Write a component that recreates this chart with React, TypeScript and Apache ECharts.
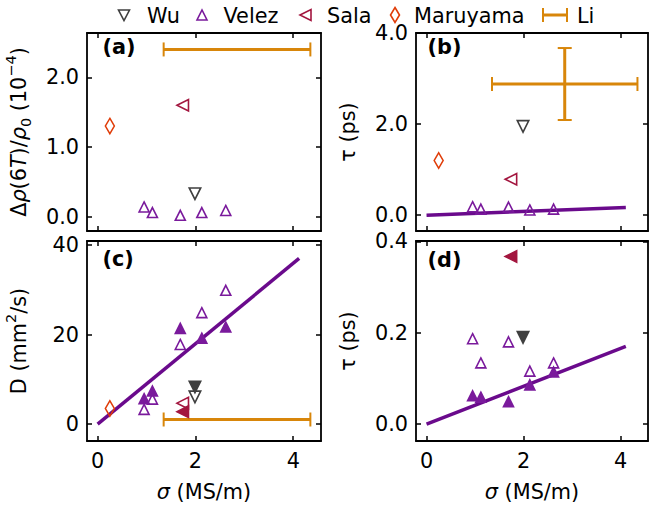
import React, { useEffect, useRef } from "react";
import * as echarts from "echarts";

// ---------------- data ----------------
const xTicks = [0, 2, 4];
const rhoTicks = [0, 1, 2];
const tauTicksB = [0, 2, 4];
const dTicks = [0, 20, 40];
const tauTicksD = [0, 0.2, 0.4];

const velezSigma = [0.95, 1.12, 1.69, 2.13, 2.62];
const velezRho = [0.14, 0.06, 0.02, 0.06, 0.09];
const velezTauOpen = [0.187, 0.134, 0.18, 0.116, 0.134];
const velezTauFilled = [0.062, 0.059, 0.049, 0.086, 0.114];
const velezDOpen = [3.3, 5.6, 17.8, 24.9, 29.9];
const velezDFilled = [5.7, 7.4, 21.4, 19.2, 21.7];

const wuSigma = [1.99];
const wuRho = [0.33];
const wuTau = [1.95];
const wuDOpen = [6.1];
const wuDFilled = [8.3];
const wuTauFilled = [0.19];

const salaSigma = [1.74];
const salaRho = [1.6];
const salaTau = [0.79];
const salaDOpen = [4.7];
const salaDFilled = [2.8];
const salaTauFilled = [0.367];

const maruyamaSigma = [0.25];
const maruyamaRho = [1.3];
const maruyamaTau = [1.2];
const maruyamaD = [3.5];

const liSigma = [2.85];
const liSigmaErr = [1.5];
const liRho = [2.4];
const liTau = [2.88];
const liTauErr = [0.79];
const liD = [1.05];

const tauFitSigma = [0, 4.11];
const tauFit = [0, 0.17];
const dFitSigma = [0, 4.12];
const dFit = [0, 37.0];

const legendNames = ["Wu", "Velez", "Sala", "Maruyama", "Li"];

// ---------------- style ----------------
const FONT = "DejaVu Sans";
const FS = 20.8;
const C_WU = "#3f3f3f";
const C_VELEZ = "#7a1a9c";
const C_LINE = "#6a0a8c";
const C_SALA = "#a3163f";
const C_MARU = "#e03c08";
const C_LI = "#d8860a";

const XMIN = -0.2175;
const XMAX = 4.5675;

const SYM_DOWN = "path://M0,0L2,0L1,2Z";
const SYM_LEFT = "path://M0,1L2,0L2,2Z";

const zip = (a: number[], b: number[]) => a.map((v, i) => [v, b[i]]);

const panels = [
  { left: 87, top: 33, width: 234, height: 198 },
  { left: 416, top: 33, width: 232, height: 198 },
  { left: 87, top: 241, width: 234, height: 200 },
  { left: 416, top: 241, width: 232, height: 200 },
];

const frameLine = { show: true, onZero: false, lineStyle: { color: "#000", width: 1.8 } };

function xAxes(gi: number, showLabels: boolean) {
  const base: any = {
    type: "value",
    gridIndex: gi,
    min: XMIN,
    max: XMAX,
    axisLine: frameLine,
    splitLine: { show: false },
    axisTick: { show: true, inside: true, length: 5, lineStyle: { color: "#000", width: 1.5 }, customValues: xTicks },
  };
  return [
    {
      ...base,
      position: "bottom",
      axisLabel: {
        show: showLabels,
        customValues: xTicks,
        fontSize: FS,
        fontFamily: FONT,
        color: "#000",
        margin: 9,
        showMinLabel: true,
        showMaxLabel: true,
      },
      name: showLabels ? "{i|σ}{n| (MS/m)}" : "",
      nameLocation: "middle",
      nameGap: 40,
      nameTextStyle: {
        fontSize: FS,
        fontFamily: FONT,
        color: "#000",
        rich: {
          i: { fontStyle: "italic", fontSize: FS, fontFamily: FONT, color: "#000" },
          n: { fontSize: FS, fontFamily: FONT, color: "#000" },
        },
      },
    },
    { ...base, position: "top", axisLabel: { show: false } },
  ];
}

function yAxes(gi: number, min: number, max: number, ticks: number[], dec: number, name: string, rich: any, gap: number) {
  const base: any = {
    type: "value",
    gridIndex: gi,
    min,
    max,
    axisLine: frameLine,
    splitLine: { show: false },
    axisTick: { show: true, inside: true, length: 5, lineStyle: { color: "#000", width: 1.5 }, customValues: ticks },
  };
  return [
    {
      ...base,
      position: "left",
      axisLabel: {
        show: true,
        customValues: ticks,
        fontSize: FS,
        fontFamily: FONT,
        color: "#000",
        margin: 8,
        showMinLabel: true,
        showMaxLabel: true,
        formatter: (v: number) => v.toFixed(dec),
      },
      name,
      nameLocation: "middle",
      nameRotate: 90,
      nameGap: gap,
      nameTextStyle: { fontSize: FS, fontFamily: FONT, color: "#000", rich },
    },
    { ...base, position: "right", axisLabel: { show: false } },
  ];
}

function scatter(name: string, p: number, xs: number[], ys: number[], symbol: string, size: any, color: string, filled: boolean) {
  return {
    type: "scatter",
    name,
    xAxisIndex: 2 * p,
    yAxisIndex: 2 * p,
    data: zip(xs, ys),
    symbol,
    symbolSize: size,
    z: 5,
    itemStyle: {
      color: filled ? color : "rgba(0,0,0,0)",
      borderColor: color,
      borderWidth: 1.6,
      opacity: 1,
    },
  };
}

function fitLine(p: number, xs: number[], ys: number[]) {
  return {
    type: "line",
    xAxisIndex: 2 * p,
    yAxisIndex: 2 * p,
    data: zip(xs, ys),
    symbol: "none",
    z: 3,
    lineStyle: { color: C_LINE, width: 3.5 },
  };
}

function errorBar(p: number, xs: number[], ys: number[], xe: number[], ye: number[]) {
  return {
    type: "custom",
    name: "Li",
    xAxisIndex: 2 * p,
    yAxisIndex: 2 * p,
    data: xs.map((x, i) => [x, ys[i], xe[i], ye[i]]),
    encode: { x: 0, y: 1 },
    z: 4,
    renderItem: (params: any, api: any) => {
      const x = api.value(0);
      const y = api.value(1);
      const ex = api.value(2);
      const ey = api.value(3);
      const cap = 7;
      const l = api.coord([x - ex, y]);
      const r = api.coord([x + ex, y]);
      const main = { stroke: C_LI, lineWidth: 3 };
      const capS = { stroke: C_LI, lineWidth: 2 };
      const children: any[] = [
        { type: "line", shape: { x1: l[0], y1: l[1], x2: r[0], y2: r[1] }, style: main },
        { type: "line", shape: { x1: l[0], y1: l[1] - cap, x2: l[0], y2: l[1] + cap }, style: capS },
        { type: "line", shape: { x1: r[0], y1: r[1] - cap, x2: r[0], y2: r[1] + cap }, style: capS },
      ];
      if (ey > 0) {
        const t = api.coord([x, y + ey]);
        const b = api.coord([x, y - ey]);
        children.push(
          { type: "line", shape: { x1: t[0], y1: t[1], x2: b[0], y2: b[1] }, style: main },
          { type: "line", shape: { x1: t[0] - cap, y1: t[1], x2: t[0] + cap, y2: t[1] }, style: capS },
          { type: "line", shape: { x1: b[0] - cap, y1: b[1], x2: b[0] + cap, y2: b[1] }, style: capS }
        );
      }
      return { type: "group", children };
    },
  };
}

function legendGraphic() {
  const cy = 15;
  const els: any[] = [];
  const stroke = (c: string) => ({ fill: "none", stroke: c, lineWidth: 1.6 });
  els.push({ type: "polygon", shape: { points: [[118.5, cy - 5], [129.5, cy - 5], [124, cy + 5.5]] }, style: stroke(C_WU) });
  els.push({ type: "polygon", shape: { points: [[197, cy + 5], [207, cy + 5], [202, cy - 5]] }, style: stroke(C_VELEZ) });
  els.push({ type: "polygon", shape: { points: [[300, cy], [311, cy - 5.5], [311, cy + 5.5]] }, style: stroke(C_SALA) });
  els.push({ type: "polygon", shape: { points: [[395, cy - 7.5], [399.5, cy], [395, cy + 7.5], [390.5, cy]] }, style: stroke(C_MARU) });
  els.push({ type: "line", shape: { x1: 543, y1: cy, x2: 567, y2: cy }, style: { stroke: C_LI, lineWidth: 3 } });
  els.push({ type: "line", shape: { x1: 543, y1: cy - 7, x2: 543, y2: cy + 7 }, style: { stroke: C_LI, lineWidth: 2 } });
  els.push({ type: "line", shape: { x1: 567, y1: cy - 7, x2: 567, y2: cy + 7 }, style: { stroke: C_LI, lineWidth: 2 } });
  const textX = [147, 223.5, 327, 414, 577];
  legendNames.forEach((n, i) => {
    els.push({
      type: "text",
      style: { text: n, x: textX[i], y: cy + 1, fontSize: FS, fontFamily: FONT, fill: "#000", align: "left", verticalAlign: "middle" },
    });
  });
  return els;
}

function panelLabels() {
  const labels = ["(a)", "(b)", "(c)", "(d)"];
  const pos = [
    [102.5, 47],
    [427.5, 47],
    [102.5, 259],
    [427.5, 260],
  ];
  return labels.map((t, i) => ({
    type: "text",
    style: {
      text: t,
      x: pos[i][0],
      y: pos[i][1],
      fontSize: FS,
      fontWeight: "bold",
      fontFamily: FONT,
      fill: "#000",
      align: "left",
      verticalAlign: "middle",
    },
  }));
}

const richBase = { fontSize: FS, fontFamily: FONT, color: "#000", lineHeight: 30, verticalAlign: "middle" };
const richScript = {
  n: richBase,
  i: { ...richBase, fontStyle: "italic" },
  sup: { fontSize: 14.5, fontFamily: FONT, color: "#000", lineHeight: 14, verticalAlign: "top" },
  sub: { fontSize: 14.5, fontFamily: FONT, color: "#000", lineHeight: 22, verticalAlign: "bottom" },
};

export default function App() {
  const ref = useRef<HTMLDivElement>(null);
  useEffect(() => {
    if (!ref.current) return;
    const chart = echarts.init(ref.current, null, { renderer: "svg" });
    const option: any = {
      animation: false,
      backgroundColor: "#fff",
      grid: panels.map((p) => ({ ...p, containLabel: false, outerBoundsMode: "none" })),
      xAxis: [...xAxes(0, false), ...xAxes(1, false), ...xAxes(2, true), ...xAxes(3, true)],
      yAxis: [
        ...yAxes(
          0,
          -0.205,
          2.636,
          rhoTicks,
          1,
          "{n|Δ}{i|ρ}{n|(6}{i|T}{n|)/}{i|ρ}{sub|0}{n| (10}{sup|−4}{n|)}",
          richScript,
          53.5
        ),
        ...yAxes(1, -0.346, 4.0, tauTicksB, 1, "τ (ps)", {}, 58),
        ...yAxes(2, -3.75, 40.9, dTicks, 0, "{n|D (mm}{sup|2}{n|/s)}", richScript, 53.5),
        ...yAxes(3, -0.037, 0.401, tauTicksD, 1, "τ (ps)", {}, 58),
      ],
      series: [
        // panel a
        errorBar(0, liSigma, liRho, liSigmaErr, [0]),
        scatter("Maruyama", 0, maruyamaSigma, maruyamaRho, "diamond", [9, 15.5], C_MARU, false),
        scatter("Sala", 0, salaSigma, salaRho, SYM_LEFT, 11.5, C_SALA, false),
        scatter("Wu", 0, wuSigma, wuRho, SYM_DOWN, 11.5, C_WU, false),
        scatter("Velez", 0, velezSigma, velezRho, "triangle", 10, C_VELEZ, false),
        // panel b
        fitLine(1, tauFitSigma, tauFit),
        errorBar(1, liSigma, liTau, liSigmaErr, liTauErr),
        scatter("Maruyama", 1, maruyamaSigma, maruyamaTau, "diamond", [9, 15.5], C_MARU, false),
        scatter("Sala", 1, salaSigma, salaTau, SYM_LEFT, 11.5, C_SALA, false),
        scatter("Wu", 1, wuSigma, wuTau, SYM_DOWN, 11.5, C_WU, false),
        scatter("Velez", 1, velezSigma, velezTauOpen, "triangle", 10, C_VELEZ, false),
        // panel c
        fitLine(2, dFitSigma, dFit),
        errorBar(2, liSigma, liD, liSigmaErr, [0]),
        scatter("Maruyama", 2, maruyamaSigma, maruyamaD, "diamond", [9, 15.5], C_MARU, false),
        scatter("Sala", 2, salaSigma, salaDOpen, SYM_LEFT, 11.5, C_SALA, false),
        scatter("Sala", 2, salaSigma, salaDFilled, SYM_LEFT, 11.5, C_SALA, true),
        scatter("Wu", 2, wuSigma, wuDOpen, SYM_DOWN, 11.5, C_WU, false),
        scatter("Wu", 2, wuSigma, wuDFilled, SYM_DOWN, 11.5, C_WU, true),
        scatter("Velez", 2, velezSigma, velezDOpen, "triangle", 10, C_VELEZ, false),
        scatter("Velez", 2, velezSigma, velezDFilled, "triangle", 10, C_VELEZ, true),
        // panel d
        fitLine(3, tauFitSigma, tauFit),
        scatter("Sala", 3, salaSigma, salaTauFilled, SYM_LEFT, 11.5, C_SALA, true),
        scatter("Wu", 3, wuSigma, wuTauFilled, SYM_DOWN, 11.5, C_WU, true),
        scatter("Velez", 3, velezSigma, velezTauOpen, "triangle", 10, C_VELEZ, false),
        scatter("Velez", 3, velezSigma, velezTauFilled, "triangle", 10, C_VELEZ, true),
      ],
      graphic: [...legendGraphic(), ...panelLabels()],
    };
    chart.setOption(option);
    return () => chart.dispose();
  }, []);
  return (
    <div
      ref={ref}
      style={{ position: "fixed", left: 0, top: 0, width: 649, height: 508, background: "#fff" }}
    />
  );
}
